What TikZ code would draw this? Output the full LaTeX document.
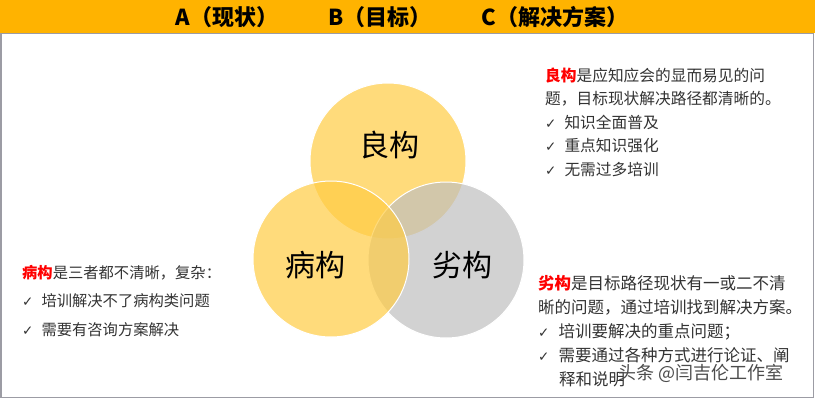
\documentclass[tikz,border=0pt]{standalone}
\usepackage{fontspec}
\setmainfont{Noto Sans CJK SC}
\newfontfamily\symb{DejaVu Sans}
\usetikzlibrary{positioning}
\definecolor{headorange}{HTML}{FFB300}
\definecolor{framegray}{HTML}{9C9CA4}
\definecolor{vennyellow}{HTML}{FFCC44}
\definecolor{venngray}{HTML}{BFBFBF}
\definecolor{termred}{HTML}{FF0000}
\definecolor{notegray}{HTML}{333333}
\newcommand{\tick}[1]{{\symb\fontsize{13.5}{13.5}\selectfont ✓}\hspace{#1}}
\newcommand{\term}[1]{\textcolor{termred}{\bfseries #1}}
\tikzset{
  headtext/.style={font=\fontsize{22}{22}\selectfont\bfseries,text=black},
  vennring/.style={circle,draw=white,line width=1pt,minimum size=156pt,inner sep=0pt,fill opacity=0.7},
  vennlabel/.style={font=\fontsize{30}{30}\selectfont,text=black},
  notetext/.style={text=notegray,anchor=base west,inner sep=0pt,text width=280pt,align=left}
}

\begin{document}
\begin{tikzpicture}[x=1pt,y=-1pt]
  \useasboundingbox (0,0) rectangle (815,400);
  \fill[white] (0,0) rectangle (815,400);
  \draw[framegray,line width=1.2pt] (1,33.5) rectangle (813.5,397.5);
  \fill[headorange] (0,0) rectangle (815,33);
  % column heads
  \node[headtext] (colA) at (227,17) {A（现状）};
  \node[headtext] (colB) at (380,17) {B（目标）};
  \node[headtext] (colC) at (555,17) {C（解决方案）};
  % three circles
  \node[vennring,fill=vennyellow] (good) at (388,161) {};
  \node[vennring,fill=venngray] (poor) at (446,260) {};
  \node[vennring,fill=vennyellow] (ill) at (331,259) {};
  \node[vennlabel] (goodname) at (389,145) {良构};
  \node[vennlabel] (illname) at (315,265) {病构};
  \node[vennlabel] (poorname) at (462,265) {劣构};
  % notes
  \node[notetext,font=\fontsize{15.7}{23.5}\selectfont] (goodnote) at (545,81)
    {\term{良构}是应知应会的显而易见的问\\
     题，目标现状解决路径都清晰的。\\
     \tick{8pt}知识全面普及\\
     \tick{8pt}重点知识强化\\
     \tick{8pt}无需过多培训};
  \node[notetext,font=\fontsize{15.3}{28.5}\selectfont] (illnote) at (22,278)
    {\term{病构}是三者都不清晰，复杂：\\
     \tick{8pt}培训解决不了病构类问题\\
     \tick{8pt}需要有咨询方案解决};
  \node[notetext,font=\fontsize{16.5}{24}\selectfont] (poornote) at (538,289)
    {\term{劣构}是目标路径现状有一或二不清\\
     晰的问题，通过培训找到解决方案。\\
     \tick{9pt}培训要解决的重点问题；\\
     \tick{9pt}需要通过各种方式进行论证、阐\\
     \hspace*{21pt}释和说明};
  \node[text=black!70,font=\fontsize{18}{18}\selectfont,anchor=west,inner sep=0pt] (mark) at (618,373) {头条 @闫吉伦工作室};
\end{tikzpicture}
\end{document}
